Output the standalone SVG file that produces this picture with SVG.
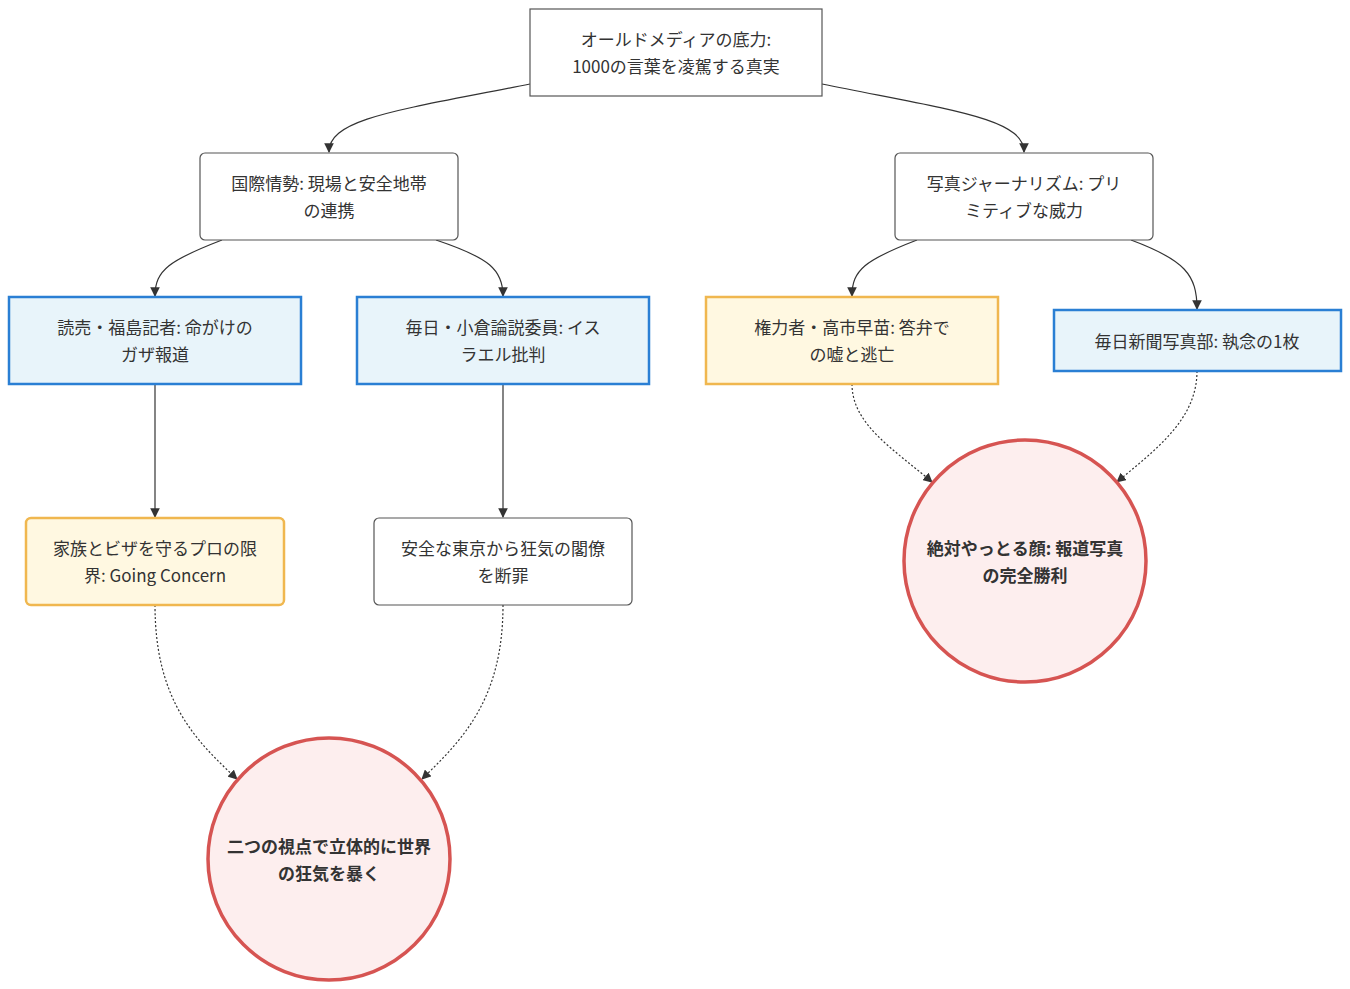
<svg xmlns="http://www.w3.org/2000/svg" width="1350" height="989" viewBox="0 0 1350 989">
<style>
text{font-family:"Noto Sans CJK JP","Noto Sans",sans-serif;font-size:17px;fill:#333;text-anchor:middle;dominant-baseline:central}
.b{font-weight:bold}
.w{fill:#fff;stroke:#555;stroke-width:1.2}
.bl{fill:#e8f4fa;stroke:#2a7fd4;stroke-width:2.5}
.y{fill:#fff8e1;stroke:#f0b74f;stroke-width:2.5}
.c{fill:#fdeeee;stroke:#d65452;stroke-width:3.5}
.e{fill:none;stroke:#333;stroke-width:1.2}
.d{stroke-dasharray:2,2}
</style>
<defs><marker id="a" viewBox="0 0 10 10" refX="9" refY="5" markerWidth="8" markerHeight="8" orient="auto"><path d="M0,0L10,5L0,10z" fill="#333"/></marker></defs>
<rect width="1350" height="989" fill="#fff"/>
<g id="edges">
<path class="e" marker-end="url(#a)" d="M530,84 C400,110 329,118 329,152"/>
<path class="e" marker-end="url(#a)" d="M822,84 C950,110 1024,118 1024,152"/>
<path class="e" marker-end="url(#a)" d="M222,240 C170,260 155,270 155,296"/>
<path class="e" marker-end="url(#a)" d="M436,240 C490,258 503,270 503,296"/>
<path class="e" marker-end="url(#a)" d="M917,240 C865,260 852,270 852,296"/>
<path class="e" marker-end="url(#a)" d="M1131,240 C1185,260 1197,275 1197,309"/>
<path class="e" marker-end="url(#a)" d="M155,384 L155,517"/>
<path class="e" marker-end="url(#a)" d="M503,384 L503,517"/>
<path class="e d" marker-end="url(#a)" d="M852,384 C852,425 895,450 932,482"/>
<path class="e d" marker-end="url(#a)" d="M1197,371 C1197,420 1155,450 1117,482"/>
<path class="e d" marker-end="url(#a)" d="M155,605 C155,700 195,740 237,779"/>
<path class="e d" marker-end="url(#a)" d="M503,605 C503,700 462,740 422,779"/>
</g>
<g id="root"><rect class="w" x="530" y="9" width="292" height="87"/><text x="676" y="38">オールドメディアの底力:</text><text x="676" y="65">1000の言葉を凌駕する真実</text></g>
<g id="A"><rect class="w" x="200" y="153" width="258" height="87" rx="5"/><text x="329" y="182">国際情勢: 現場と安全地帯</text><text x="329" y="209">の連携</text></g>
<g id="B"><rect class="w" x="895" y="153" width="258" height="87" rx="5"/><text x="1024" y="182">写真ジャーナリズム: プリ</text><text x="1024" y="209">ミティブな威力</text></g>
<g id="C"><rect class="bl" x="9" y="297" width="292" height="87"/><text x="155" y="326">読売・福島記者: 命がけの</text><text x="155" y="353">ガザ報道</text></g>
<g id="D"><rect class="bl" x="357" y="297" width="292" height="87"/><text x="503" y="326">毎日・小倉論説委員: イス</text><text x="503" y="353">ラエル批判</text></g>
<g id="E"><rect class="y" x="706" y="297" width="292" height="87"/><text x="852" y="326">権力者・高市早苗: 答弁で</text><text x="852" y="353">の嘘と逃亡</text></g>
<g id="F"><rect class="bl" x="1054" y="310" width="287" height="61"/><text x="1197" y="340">毎日新聞写真部: 執念の1枚</text></g>
<g id="G"><rect class="y" x="26" y="518" width="258" height="87" rx="5"/><text x="155" y="547">家族とビザを守るプロの限</text><text x="155" y="574">界: Going Concern</text></g>
<g id="H"><rect class="w" x="374" y="518" width="258" height="87" rx="5"/><text x="503" y="547">安全な東京から狂気の閣僚</text><text x="503" y="574">を断罪</text></g>
<g id="L"><circle class="c" cx="329" cy="859" r="121"/><text class="b" x="329" y="845">二つの視点で立体的に世界</text><text class="b" x="329" y="872">の狂気を暴く</text></g>
<g id="R"><circle class="c" cx="1025" cy="561" r="121"/><text class="b" x="1025" y="547">絶対やっとる顔: 報道写真</text><text class="b" x="1025" y="574">の完全勝利</text></g>
</svg>
